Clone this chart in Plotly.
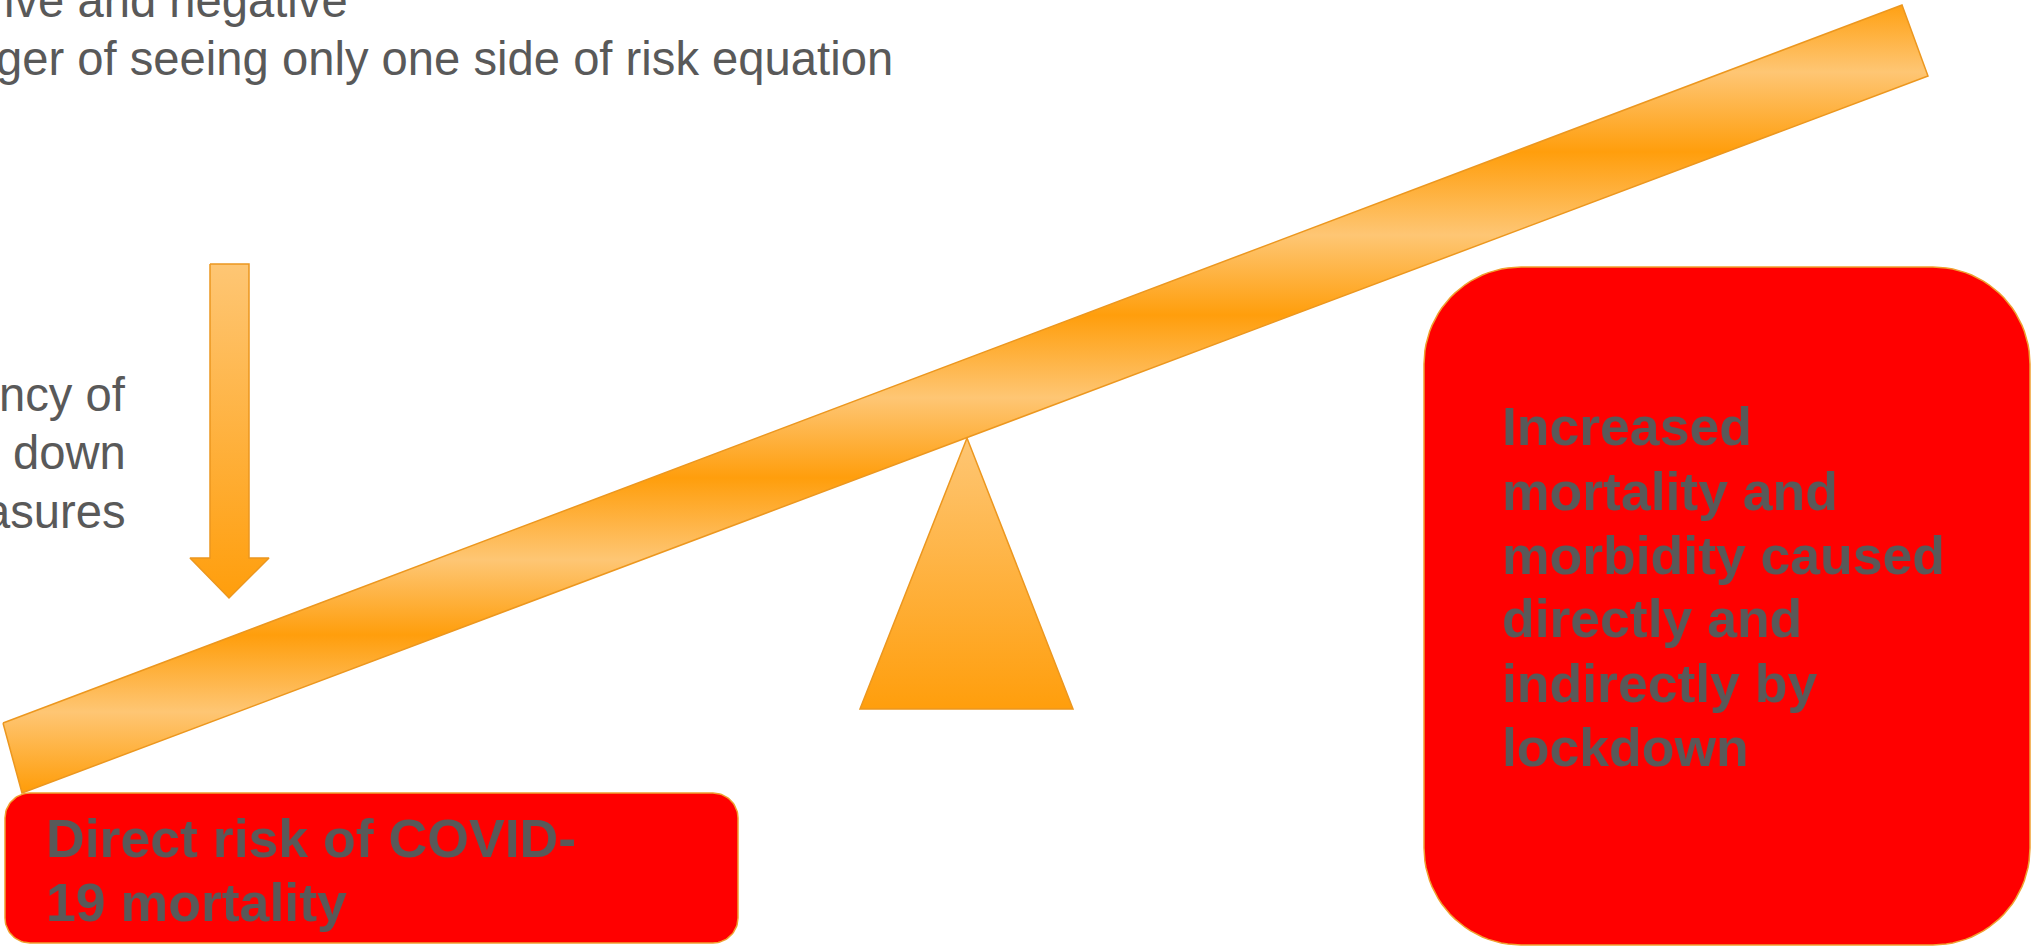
import numpy as np
import plotly.graph_objects as go

W, H = 2033, 949

# ---- text content ----
top_lines = ["ive and negative", "ger of seeing only one side of risk equation"]
left_lines = ["ncy of", "down", "asures"]
box_left_lines = ["Direct risk of COVID-", "19 mortality"]
box_right_lines = ["Increased", "mortality and", "morbidity caused",
                   "directly and", "indirectly by", "lockdown"]

# ---- geometry (pixel space, y grows downward) ----
beam_x = [3, 1902, 1928, 22]
beam_y = [723, 5, 76, 793]
fulcrum_x = [967, 1073, 860]
fulcrum_y = [438, 709, 709]
arrow_x = [210, 249, 249, 269, 229, 190, 210]
arrow_y = [264, 264, 558, 558, 598, 558, 558]
left_box = (5, 793, 738, 943, 25)
right_box = (1424, 267, 2030, 945, 97)

LIGHT = "#FEC674"
DARK = "#FF9E0C"
EDGE = "#EC971F"
TEXT = "#595959"
FONT = "Liberation Sans, Arial, sans-serif"

# beam banding (vertical gradient repeating)
band_y = [0, 72, 152, 235, 315, 398, 478, 560, 635, 712, 790, 800]
band_c = [DARK, LIGHT, DARK, LIGHT, DARK, LIGHT, DARK, LIGHT, DARK, LIGHT, DARK, DARK]


def rounded_rect(x0, y0, x1, y1, r, n=24):
    xs, ys = [], []
    corners = [(x1 - r, y0 + r, -90, 0), (x1 - r, y1 - r, 0, 90),
               (x0 + r, y1 - r, 90, 180), (x0 + r, y0 + r, 180, 270)]
    for cx, cy, a0, a1 in corners:
        t = np.radians(np.linspace(a0, a1, n))
        xs.extend(cx + r * np.cos(t))
        ys.extend(cy + r * np.sin(t))
    xs.append(xs[0]); ys.append(ys[0])
    return xs, ys


fig = go.Figure()

# beam
fig.add_trace(go.Scatter(
    x=beam_x + beam_x[:1], y=beam_y + beam_y[:1], mode="lines", fill="toself",
    line=dict(color=EDGE, width=1.5),
    fillgradient=dict(type="vertical", start=band_y[0], stop=band_y[-1],
                      colorscale=[[(v - band_y[0]) / (band_y[-1] - band_y[0]), c]
                                  for v, c in zip(band_y, band_c)]),
    hoverinfo="skip"))

# fulcrum
fig.add_trace(go.Scatter(
    x=fulcrum_x + fulcrum_x[:1], y=fulcrum_y + fulcrum_y[:1], mode="lines", fill="toself",
    line=dict(color=EDGE, width=1.5),
    fillgradient=dict(type="vertical", start=fulcrum_y[0], stop=fulcrum_y[1],
                      colorscale=[[0, LIGHT], [1, DARK]]),
    hoverinfo="skip"))

# arrow
fig.add_trace(go.Scatter(
    x=arrow_x + arrow_x[:1], y=arrow_y + arrow_y[:1], mode="lines", fill="toself",
    line=dict(color=EDGE, width=1.5),
    fillgradient=dict(type="vertical", start=min(arrow_y), stop=max(arrow_y),
                      colorscale=[[0, LIGHT], [1, DARK]]),
    hoverinfo="skip"))

# red boxes
for b in (left_box, right_box):
    xs, ys = rounded_rect(*b)
    fig.add_trace(go.Scatter(x=xs, y=ys, mode="lines", fill="toself",
                             fillcolor="#FF0000", line=dict(color="#F0A030", width=1.5),
                             hoverinfo="skip"))


def add_lines(lines, x, baselines, size, anchor, bold=False):
    for txt, b in zip(lines, baselines):
        fig.add_annotation(
            x=x, y=b - 0.3465 * size, xref="x", yref="y", text=txt, showarrow=False,
            xanchor=anchor, yanchor="middle", borderpad=0,
            font=dict(family=FONT, size=size, color=TEXT,
                      weight="bold" if bold else "normal"))


# top text (right-anchored, left part is off canvas)
fig.add_annotation(x=349, y=17 - 0.3465 * 47.2, text=top_lines[0], showarrow=False,
                   xanchor="right", yanchor="middle", borderpad=0,
                   font=dict(family=FONT, size=47.2, color=TEXT))
fig.add_annotation(x=894, y=75 - 0.3465 * 47.2, text=top_lines[1], showarrow=False,
                   xanchor="right", yanchor="middle", borderpad=0,
                   font=dict(family=FONT, size=47.2, color=TEXT))

add_lines(left_lines, 127, [411, 469, 528], 47.2, "right")
add_lines(box_left_lines, 45, [857, 921], 53.6, "left", bold=True)
add_lines(box_right_lines, 1501, [445, 510, 574, 637, 702, 766], 53.5, "left", bold=True)

fig.update_layout(
    width=W, height=H, margin=dict(l=0, r=0, t=0, b=0),
    paper_bgcolor="white", plot_bgcolor="white", showlegend=False,
    xaxis=dict(range=[0, W], visible=False, fixedrange=True),
    yaxis=dict(range=[H, 0], visible=False, fixedrange=True),
)

fig.write_html("out.html", config={"displayModeBar": False})
